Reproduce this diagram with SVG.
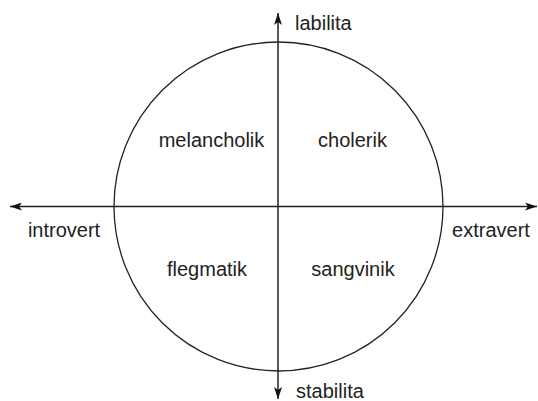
<svg xmlns="http://www.w3.org/2000/svg" width="538" height="401" viewBox="0 0 538 401">
<style>
.lbl{font-family:"Liberation Sans",Arial,sans-serif;font-size:20px;fill:#222}
.ax{stroke:#222;stroke-width:1.5;fill:none}
</style>
<defs>
<marker id="ah" viewBox="0 0 12 8" refX="12" refY="4" markerWidth="12" markerHeight="8" markerUnits="userSpaceOnUse" orient="auto">
<path d="M0,0 L12,4 L0,8 L3,4 Z" fill="#111"/>
</marker>
</defs>
<rect width="538" height="401" fill="#fff"/>
<g id="circle">
<circle cx="278.5" cy="206.5" r="164.5" fill="none" stroke="#222" stroke-width="1.3"/>
</g>
<g id="connectors">
<line class="ax" x1="278" y1="206.5" x2="10" y2="206.5" marker-end="url(#ah)"/>
<line class="ax" x1="278" y1="206.5" x2="537" y2="206.5" marker-end="url(#ah)"/>
<line class="ax" x1="278" y1="206.5" x2="278" y2="13" marker-end="url(#ah)"/>
<line class="ax" x1="278" y1="206.5" x2="278" y2="399" marker-end="url(#ah)"/>
</g>
<g id="labilita"><text class="lbl" x="295" y="30">labilita</text></g>
<g id="stabilita"><text class="lbl" x="296" y="398">stabilita</text></g>
<g id="introvert"><text class="lbl" x="64" y="237" text-anchor="middle">introvert</text></g>
<g id="extravert"><text class="lbl" x="491" y="237" text-anchor="middle">extravert</text></g>
<g id="melancholik"><text class="lbl" x="211.5" y="147" text-anchor="middle">melancholik</text></g>
<g id="cholerik"><text class="lbl" x="352.5" y="147" text-anchor="middle">cholerik</text></g>
<g id="flegmatik"><text class="lbl" x="207" y="276" text-anchor="middle">flegmatik</text></g>
<g id="sangvinik"><text class="lbl" x="353" y="276" text-anchor="middle">sangvinik</text></g>
</svg>
